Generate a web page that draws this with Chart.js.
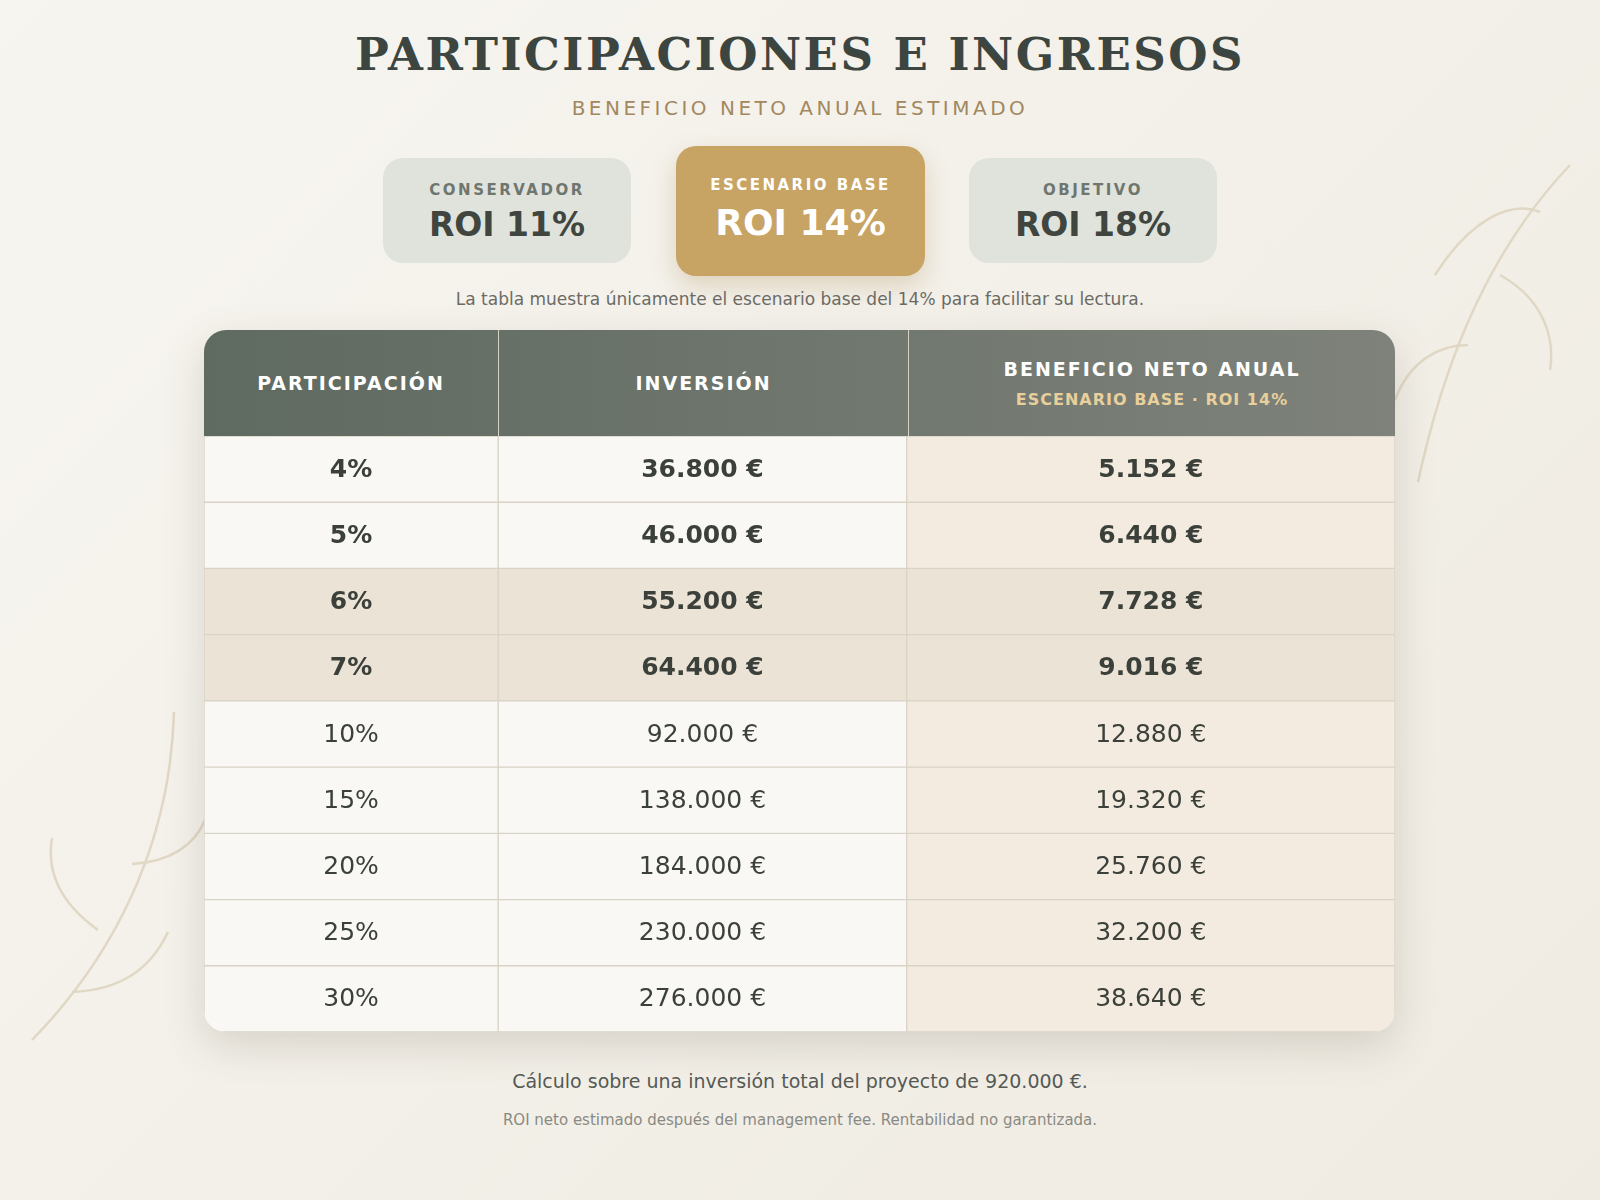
<!DOCTYPE html>
<html><head><meta charset="utf-8">
<script src="https://cdn.jsdelivr.net/npm/chart.js@4/dist/chart.umd.min.js"></script>
<style>
body{margin:0;width:1600px;height:1200px;overflow:hidden;background:linear-gradient(135deg,#f7f5f0,#efebe2);font-family:"DejaVu Sans",sans-serif;position:relative}
.abs{position:absolute}
h1{position:absolute;left:0;right:0;top:28px;margin:0;text-align:center;font-family:"DejaVu Serif",serif;font-weight:bold;font-size:45px;letter-spacing:2.5px;color:#3d4540}
.sub{left:0;right:0;top:96px;text-align:center;font-size:20px;letter-spacing:3.5px;color:#a3885f}
.card{border-radius:20px;text-align:center;background:#dfe3dc;color:#40463f}
.card .k{font-size:15px;font-weight:bold;letter-spacing:2.5px;color:#6f766f}
.card .v{font-size:33px;font-weight:bold}
.note{left:0;right:0;top:289px;text-align:center;font-size:17px;color:#6b6b66}
.f1{left:0;right:0;top:1070px;text-align:center;font-size:19px;color:#555a55}
.f2{left:0;right:0;top:1111px;text-align:center;font-size:15px;color:#8a8a84}
.wrap{left:204px;top:330px;width:1191px;height:702px;border-radius:22px;overflow:hidden;box-shadow:0 14px 40px rgba(90,80,60,.18);background:#f8f7f3}
.head{position:absolute;left:0;top:0;width:100%;height:106px;background:linear-gradient(90deg,#5f6a61,#7e827a);display:flex;color:#fff;font-weight:bold}
.head div{display:flex;flex-direction:column;justify-content:center;align-items:center;font-size:19px;letter-spacing:2px;border-right:1.5px solid #d8d2c6}
.head div:last-child{border-right:none}
.head small{font-size:16px;letter-spacing:1px;color:#e8cf9c;margin-top:10px}
</style></head><body>
<svg class="abs" style="left:0;top:0" width="1600" height="1200" fill="none" stroke="#e0d8c4" stroke-width="2.5">
<path d="M1418 482 C1440 380 1480 260 1570 165"/><path d="M1435 275 C1470 220 1510 200 1540 212"/>
<path d="M1500 275 C1545 300 1555 340 1550 370"/><path d="M1395 400 C1410 360 1440 345 1468 345"/>
<path d="M32 1040 C110 960 170 850 174 712"/><path d="M52 838 C45 880 70 910 98 930"/>
<path d="M72 992 C120 990 150 970 168 932"/><path d="M132 864 C170 862 195 845 205 820"/>
</svg>
<h1>PARTICIPACIONES E INGRESOS</h1>
<div class="abs sub">BENEFICIO NETO ANUAL ESTIMADO</div>
<div class="abs card" style="left:383px;top:158px;width:248px;height:105px"><div class="k" style="margin-top:23px">CONSERVADOR</div><div class="v" style="margin-top:6px">ROI 11%</div></div>
<div class="abs card" style="left:676px;top:146px;width:249px;height:130px;background:#c8a464;color:#fff;box-shadow:0 10px 24px rgba(160,120,50,.25)"><div class="k" style="margin-top:30px;color:#fff">ESCENARIO BASE</div><div class="v" style="margin-top:8px;font-size:36px">ROI 14%</div></div>
<div class="abs card" style="left:969px;top:158px;width:248px;height:105px"><div class="k" style="margin-top:23px">OBJETIVO</div><div class="v" style="margin-top:6px">ROI 18%</div></div>
<div class="abs note">La tabla muestra únicamente el escenario base del 14% para facilitar su lectura.</div>
<div class="abs wrap">
 <div class="head"><div style="width:294px">PARTICIPACIÓN</div><div style="width:409px">INVERSIÓN</div><div style="flex:1">BENEFICIO NETO ANUAL<small>ESCENARIO BASE · ROI 14%</small></div></div>
 <div style="position:absolute;left:0;top:106px;width:1191px;height:596px"><canvas id="c"></canvas></div>
</div>
<div class="abs f1">Cálculo sobre una inversión total del proyecto de 920.000 €.</div>
<div class="abs f2">ROI neto estimado después del management fee. Rentabilidad no garantizada.</div>
<script>
const participaciones=['4%','5%','6%','7%','10%','15%','20%','25%','30%'];
const inversion=['36.800 €','46.000 €','55.200 €','64.400 €','92.000 €','138.000 €','184.000 €','230.000 €','276.000 €'];
const beneficio=['5.152 €','6.440 €','7.728 €','9.016 €','12.880 €','19.320 €','25.760 €','32.200 €','38.640 €'];
const destacadas=[true,true,true,true,false,false,false,false,false];
const resaltadas=[false,false,true,true,false,false,false,false,false];
const COL_EDGES=[0,0.247,0.59,1];
const cols=[participaciones,inversion,beneficio];
const base=['#f9f8f4','#f9f8f4','#f3ebdf'];
const datasets=cols.map((c,i)=>({data:participaciones.map(()=>[COL_EDGES[i],COL_EDGES[i+1]]),
 backgroundColor:participaciones.map((_,r)=>resaltadas[r]?'#ebe3d6':base[i]),
 borderColor:'#d9d3c7',borderWidth:1,borderSkipped:false,barPercentage:1,categoryPercentage:1,grouped:false}));
const textPlugin={id:'t',afterDatasetsDraw(ch){const ctx=ch.ctx,x=ch.scales.x,y=ch.scales.y;ctx.save();ctx.textAlign='center';ctx.textBaseline='middle';ctx.fillStyle='#3b403a';
 participaciones.forEach((_,r)=>{ctx.font=(destacadas[r]?'bold ':'')+'25px "DejaVu Sans"';
  cols.forEach((c,i)=>{ctx.fillText(c[r],x.getPixelForValue((COL_EDGES[i]+COL_EDGES[i+1])/2),y.getPixelForValue(r)+1);});});ctx.restore();}};
new Chart(document.getElementById('c'),{type:'bar',data:{labels:participaciones,datasets},
 options:{indexAxis:'y',responsive:true,maintainAspectRatio:false,animation:false,layout:{padding:0},
 plugins:{legend:{display:false},tooltip:{enabled:false}},
 scales:{x:{display:false,min:0,max:1},y:{display:false,offset:true}}},plugins:[textPlugin]});
</script>
</body></html>
